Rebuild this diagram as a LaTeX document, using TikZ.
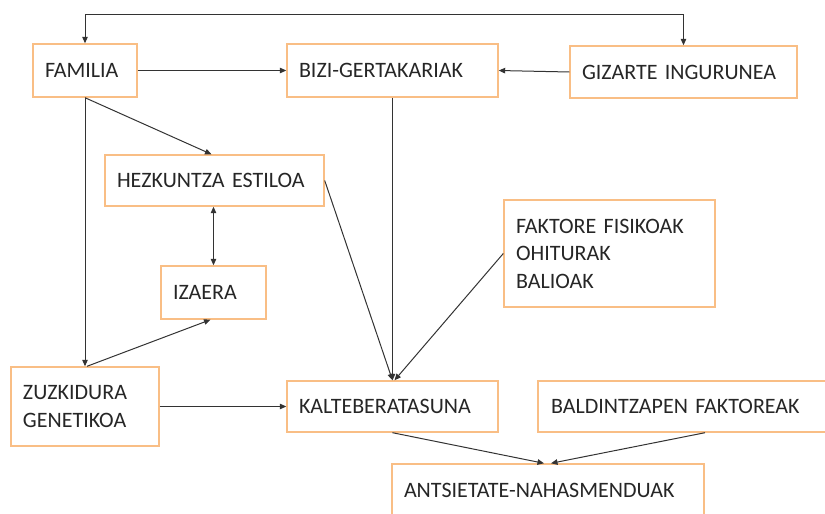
\documentclass[tikz,border=0pt]{standalone}
\usepackage{fontspec}
\setmainfont{Carlito}
\usetikzlibrary{arrows.meta,calc}
\definecolor{boxor}{HTML}{F9BE85}
\definecolor{lnk}{HTML}{333333}
\newcommand{\myboxfont}{\fontsize{22}{27.5}\selectfont\spaceskip=0.24em\relax}
\tikzset{
  bx/.style={draw=boxor, line width=1.4pt, rectangle, align=left, inner xsep=12pt, inner ysep=0pt,
     font=\myboxfont, text=black!85},
  cn/.style={draw=lnk, line width=1pt, -{Triangle[length=6.5pt,width=5.5pt]}},
  cn2/.style={draw=lnk, line width=1pt, {Triangle[length=6.5pt,width=5.5pt]}-{Triangle[length=6.5pt,width=5.5pt]}}
}
\begin{document}
\begin{tikzpicture}[x=1pt,y=-1pt]
\useasboundingbox (0,0) rectangle (825,514);
\node[bx, text width=80pt, minimum height=53pt] (fam) at (85,70.5) {FAMILIA};
\node[bx, text width=187pt, minimum height=53pt] (biz) at (392.5,70.5) {BIZI-GERTAKARIAK};
\node[bx, text width=203pt, minimum height=52pt] (giz) at (683.5,72) {GIZARTE INGURUNEA};
\node[bx, text width=195pt, minimum height=51pt] (hez) at (214.5,180.5) {HEZKUNTZA ESTILOA};
\node[bx, text width=81pt, minimum height=53pt] (iza) at (213.5,292.5) {IZAERA};
\node[bx, text width=124pt, minimum height=79pt] (zuz) at (85,406.5) {ZUZKIDURA\\GENETIKOA};
\node[bx, text width=187pt, minimum height=51pt] (kal) at (392.5,406.5) {KALTEBERATASUNA};
\node[bx, text width=187pt, minimum height=107pt] (fak) at (609.5,253.5) {FAKTORE FISIKOAK\\OHITURAK\\BALIOAK};
\node[bx, inner xsep=13pt, text width=276pt, minimum height=51pt] (bal) at (689,406.5) {BALDINTZAPEN FAKTOREAK};
\node[bx, text width=288pt, minimum height=52pt] (ant) at (548,490) {ANTSIETATE-NAHASMENDUAK};

\coordinate (tl) at (85,14);
\draw[cn2] (fam.north) -- (tl) -| (giz.north);
\draw[cn] (fam.east) -- (biz.west);
\draw[cn] (giz.west) -- (biz.east);
\draw[cn] (fam.south) -- ([xshift=-3pt]hez.north);
\draw[cn2] (iza.north |- hez.south) -- (iza.north);
\draw[cn] (fam.south) -- (zuz.north);
\draw[cn] ([xshift=2pt]zuz.north) -- ([xshift=-3pt]iza.south);
\draw[cn] (zuz.east) -- (kal.west);
\draw[cn] (hez.east) -- (kal.north);
\draw[cn] (biz.south) -- (kal.north);
\draw[cn] (fak.west) -- ([xshift=2pt]kal.north);
\draw[cn] (kal.south) -- ([xshift=-4pt]ant.north);
\draw[cn] ([xshift=16pt]bal.south) -- ([xshift=3pt]ant.north);
\end{tikzpicture}
\end{document}
